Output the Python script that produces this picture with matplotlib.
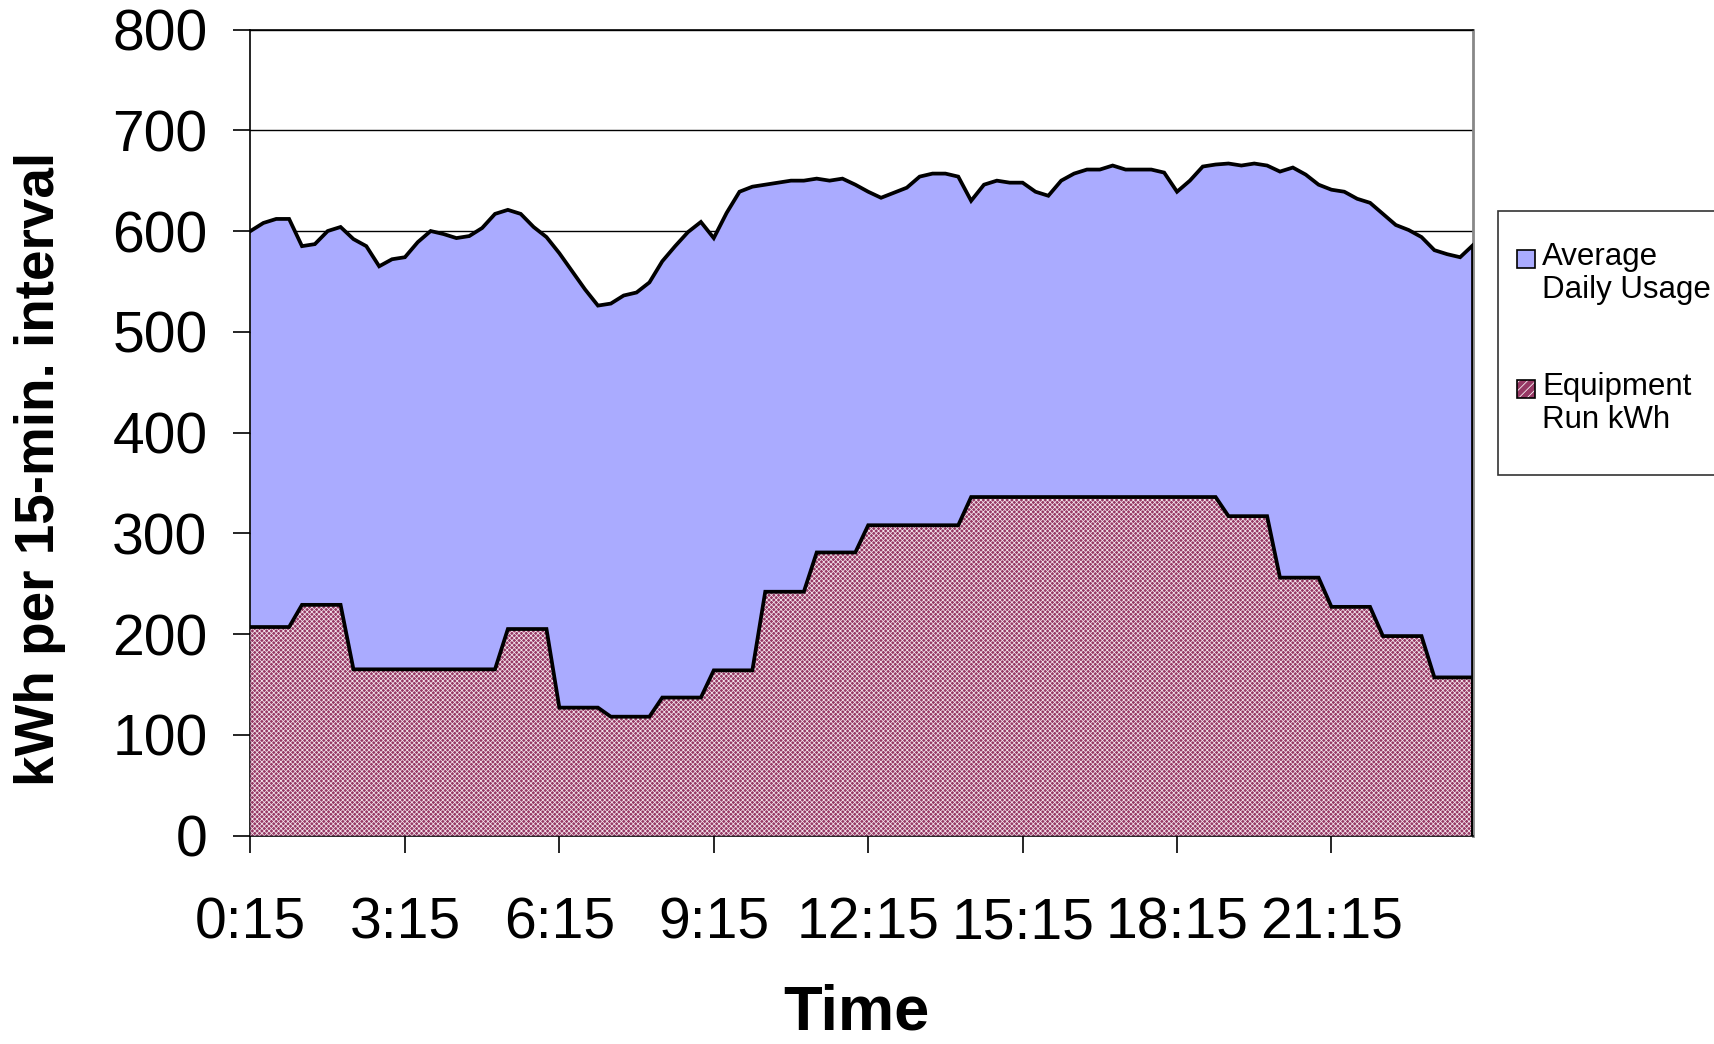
import matplotlib
matplotlib.use('Agg')
import matplotlib.pyplot as plt
from matplotlib.patches import Rectangle
import numpy as np

# ---- data -------------------------------------------------------------
intervals = [f"{(15 * (i + 1)) // 60}:{(15 * (i + 1)) % 60:02d}" for i in range(96)]
tick_labels = ["0:15", "3:15", "6:15", "9:15", "12:15", "15:15", "18:15", "21:15"]

avg_usage = [600, 608, 612, 612, 585, 587, 600, 604, 592, 585, 565, 572,
             574, 589, 600, 597, 593, 595, 603, 617, 621, 617, 604, 594,
             578, 560, 542, 526, 528, 536, 539, 549, 570, 585, 599, 609,
             593, 618, 639, 644, 646, 648, 650, 650, 652, 650, 652, 646,
             639, 633, 638, 643, 654, 657, 657, 654, 630, 646, 650, 648,
             648, 639, 635, 650, 657, 661, 661, 665, 661, 661, 661, 658,
             639, 650, 664, 666, 667, 665, 667, 665, 659, 663, 656, 646,
             641, 639, 632, 628, 617, 606, 601, 594, 581, 577, 574, 586]

equipment_kwh = [207, 207, 207, 207, 229, 229, 229, 229, 165, 165, 165, 165,
                 165, 165, 165, 165, 165, 165, 165, 165, 205, 205, 205, 205,
                 127, 127, 127, 127, 118, 118, 118, 118, 137, 137, 137, 137,
                 164, 164, 164, 164, 242, 242, 242, 242, 281, 281, 281, 281,
                 308, 308, 308, 308, 308, 308, 308, 308, 336, 336, 336, 336,
                 336, 336, 336, 336, 336, 336, 336, 336, 336, 336, 336, 336,
                 336, 336, 336, 336, 317, 317, 317, 317, 256, 256, 256, 256,
                 227, 227, 227, 227, 198, 198, 198, 198, 157, 157, 157, 157]

series_names = ["Average\nDaily Usage", "Equipment\nRun kWh"]

# ---- style ------------------------------------------------------------
plt.rcParams['font.family'] = ['Liberation Sans', 'DejaVu Sans']
plt.rcParams['hatch.linewidth'] = 0.55

BLUE = '#aaabff'
PINK = '#963864'

W, H = 1715, 1044
fig = plt.figure(figsize=(W / 100, H / 100), dpi=100)
L, R, T, B = 250.5, 1473, 29.5, 835.6
ax = fig.add_axes([L / W, 1 - B / H, (R - L) / W, (B - T) / H])

x = np.arange(len(intervals))
avg = np.array(avg_usage)
eq = np.array(equipment_kwh)

ax.fill_between(x, avg, 0, facecolor=BLUE, edgecolor='none', zorder=2)
ax.plot(np.r_[x, x[-1]], np.r_[avg, 0], color='black', lw=2.7, zorder=5,
        solid_joinstyle='miter')
ax.fill_between(x, eq, 0, facecolor=PINK, edgecolor='#f4e4ec', hatch='xxxxxxx',
                linewidth=0, zorder=3)
ax.plot(np.r_[x, x[-1]], np.r_[eq, 0], color='black', lw=2.7, zorder=5,
        solid_joinstyle='miter')

ax.set_xlim(0, len(x) - 1)
ax.set_ylim(0, 800)
ax.set_yticks(np.arange(0, 801, 100))
ax.set_xticks(x[::12])
ax.set_xticklabels(tick_labels)
ax.yaxis.grid(True, color='black', lw=1.0)
ax.set_axisbelow(True)

ax.tick_params(axis='both', direction='out', length=12, width=1.2,
               labelsize=41, color='black')
ax.tick_params(axis='y', pad=19)
ax.tick_params(axis='x', pad=32)

for s in ['left', 'bottom', 'top']:
    ax.spines[s].set_color('black')
    ax.spines[s].set_linewidth(1.2)
ax.spines['right'].set_color('#888888')
ax.spines['right'].set_linewidth(2)

fig.text(856 / W, 1 - 1013 / H, "Time", ha='center', va='center',
         fontsize=45.5, fontweight='bold')
fig.text(40 / W, 1 - 469 / H, "kWh per 15-min. interval", ha='center',
         va='center', rotation=90, fontsize=39.5, fontweight='bold')

# ---- legend -----------------------------------------------------------
fig.patches.append(Rectangle((1498 / W, 1 - 475 / H), 0.2, (475 - 211) / H,
                             transform=fig.transFigure, facecolor='white',
                             edgecolor='#333333', lw=1.2, zorder=1))
fig.patches.append(Rectangle((1517 / W, 1 - 268 / H), 18 / W, 18 / H,
                             transform=fig.transFigure, facecolor=BLUE,
                             edgecolor='black', lw=1.2, zorder=2))
fig.patches.append(Rectangle((1517 / W, 1 - 398 / H), 18 / W, 18 / H,
                             transform=fig.transFigure, facecolor=PINK,
                             edgecolor='white', hatch='////', lw=0, zorder=2))
fig.patches.append(Rectangle((1517 / W, 1 - 398 / H), 18 / W, 18 / H,
                             transform=fig.transFigure, facecolor='none',
                             edgecolor='black', lw=1.2, zorder=3))
fig.text(1542 / W, 1 - 242 / H, series_names[0], ha='left', va='top',
         fontsize=22.5, linespacing=1.15)
fig.text(1542 / W, 1 - 372 / H, series_names[1], ha='left', va='top',
         fontsize=22.5, linespacing=1.15)

fig.savefig('out.png', dpi=100)
